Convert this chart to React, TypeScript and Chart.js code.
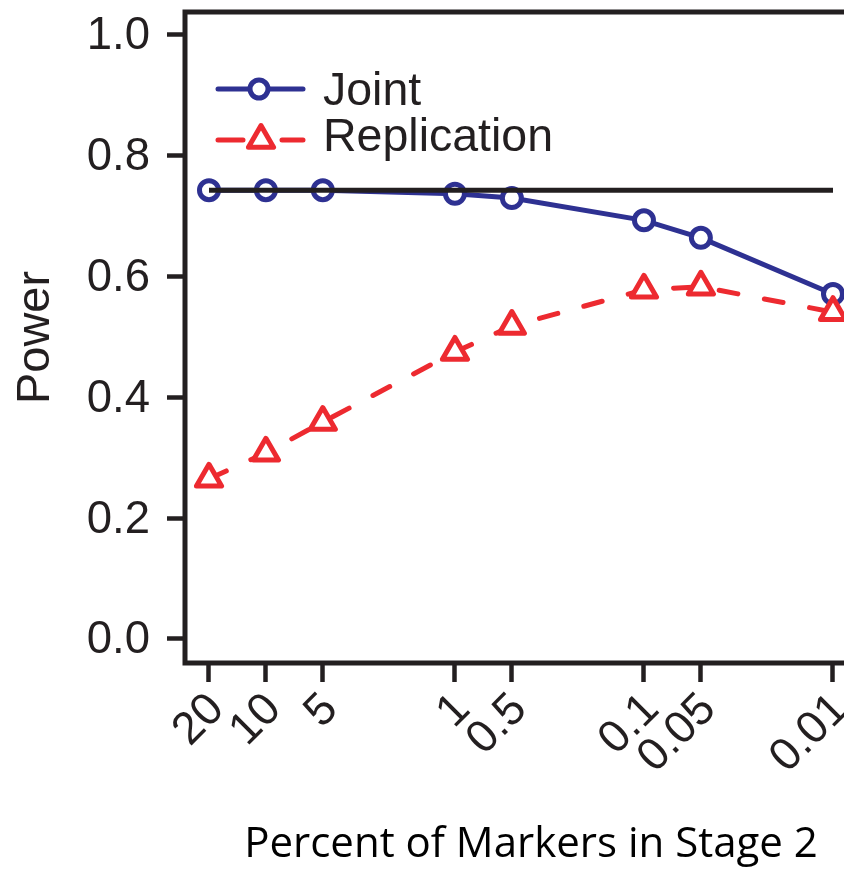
import { useEffect, useRef } from 'react';
import { Chart, registerables } from 'chart.js';

Chart.register(...registerables);

// Percent of markers carried into stage 2 (log axis, decreasing to the right)
const percentStage2 = [20, 10, 5, 1, 0.5, 0.1, 0.05, 0.01];
const percentLabels = ['20', '10', '5', '1', '0.5', '0.1', '0.05', '0.01'];

// Power of the two-stage analyses
const jointPower = [0.743, 0.743, 0.743, 0.737, 0.73, 0.693, 0.664, 0.571];
const replicationPower = [0.265, 0.308, 0.359, 0.475, 0.518, 0.578, 0.583, 0.541];

// Power of the one-stage design (reference line)
const oneStagePower = 0.743;

const powerTicks = [0, 0.2, 0.4, 0.6, 0.8, 1.0];
const seriesNames = ['Joint', 'Replication'];

const INK = '#231f20';
const BLUE = '#2e3192';
const RED = '#ed2a30';
const SANS = "'Liberation Sans', Arial, Helvetica, sans-serif";

function drawTriangle(ctx: CanvasRenderingContext2D, x: number, y: number, r: number) {
  ctx.beginPath();
  for (let k = 0; k < 3; k++) {
    const a = (k * 2 * Math.PI) / 3;
    const px = x + Math.sin(a) * r;
    const py = y - Math.cos(a) * r;
    if (k === 0) ctx.moveTo(px, py);
    else ctx.lineTo(px, py);
  }
  ctx.closePath();
}

// keep the plotting box exactly where the axes put it
function noScalePadding(scale: any) {
  scale.paddingLeft = 0;
  scale.paddingRight = 0;
  scale.paddingTop = 0;
  scale.paddingBottom = 0;
}

export default function App() {
  const canvasRef = useRef<HTMLCanvasElement>(null);

  useEffect(() => {
    const canvas = canvasRef.current;
    if (!canvas) return;

    const framePlugin = {
      id: 'frameAndLegend',
      beforeDatasetsDraw(chart: any) {
        chart.ctx.save();
        chart.ctx.lineJoin = 'round';
      },
      afterDatasetsDraw(chart: any) {
        chart.ctx.restore();
      },
      afterDraw(chart: any) {
        const { ctx, chartArea: a } = chart;
        ctx.save();
        // box around the plotting region
        ctx.strokeStyle = INK;
        ctx.lineWidth = 5;
        ctx.lineJoin = 'miter';
        ctx.setLineDash([]);
        ctx.strokeRect(a.left, a.top, a.right - a.left, a.bottom - a.top);

        // legend in the upper-left corner of the plot
        const x1 = a.left + 33;
        const x2 = a.left + 118;
        const xm = a.left + 76;
        const textX = a.left + 138;
        const rows = [
          { y: a.top + 77, base: a.top + 93, color: BLUE, dash: [] as number[], shape: 'circle' },
          { y: a.top + 128, base: a.top + 139, color: RED, dash: [25, 39], shape: 'triangle' },
        ];
        rows.forEach((row, i) => {
          ctx.strokeStyle = row.color;
          ctx.lineWidth = 5;
          ctx.lineCap = 'round';
          ctx.setLineDash(row.dash);
          ctx.beginPath();
          ctx.moveTo(x1, row.y);
          ctx.lineTo(x2, row.y);
          ctx.stroke();
          ctx.setLineDash([]);
          ctx.lineJoin = 'round';
          ctx.fillStyle = '#ffffff';
          if (row.shape === 'circle') {
            ctx.beginPath();
            ctx.arc(xm - 2, row.y, 9, 0, Math.PI * 2);
          } else {
            drawTriangle(ctx, xm, row.y, 14.5);
          }
          ctx.fill();
          ctx.stroke();
          ctx.fillStyle = INK;
          ctx.font = `46.5px ${SANS}`;
          ctx.textAlign = 'left';
          ctx.textBaseline = 'alphabetic';
          ctx.fillText(seriesNames[i], textX, row.base);
        });
        ctx.restore();
      },
    };

    const chart = new Chart(canvas, {
      type: 'line',
      data: {
        datasets: [
          {
            label: 'One stage',
            data: [
              { x: percentStage2[0], y: oneStagePower },
              { x: percentStage2[percentStage2.length - 1], y: oneStagePower },
            ],
            borderColor: INK,
            borderWidth: 5,
            pointRadius: 0,
            order: 0,
          },
          {
            label: seriesNames[1],
            data: percentStage2.map((x, i) => ({ x, y: replicationPower[i] })),
            borderColor: RED,
            borderWidth: 5,
            borderDash: [19, 27],
            borderCapStyle: 'round',
            pointStyle: 'triangle',
            pointRadius: 14.5,
            pointBorderWidth: 5,
            pointBorderColor: RED,
            pointBackgroundColor: '#ffffff',
            order: 1,
          },
          {
            label: seriesNames[0],
            data: percentStage2.map((x, i) => ({ x, y: jointPower[i] })),
            borderColor: BLUE,
            borderWidth: 5,
            pointStyle: 'circle',
            pointRadius: 9.5,
            pointBorderWidth: 5,
            pointBorderColor: BLUE,
            pointBackgroundColor: '#ffffff',
            order: 2,
          },
        ],
      },
      options: {
        responsive: false,
        maintainAspectRatio: false,
        devicePixelRatio: 1,
        animation: false,
        events: [],
        layout: { autoPadding: false, padding: { left: 0, top: 12, right: 0, bottom: 0 } },
        plugins: {
          legend: { display: false },
          tooltip: { enabled: false },
        },
        scales: {
          x: {
            type: 'logarithmic',
            reverse: true,
            min: 0.005851,
            max: 26.79,
            afterBuildTicks: (scale: any) => {
              scale.ticks = [...percentStage2].reverse().map((v) => ({ value: v }));
            },
            afterFit: (scale: any) => {
              scale.height = 207;
              noScalePadding(scale);
            },
            border: { display: false },
            grid: {
              drawOnChartArea: false,
              drawTicks: true,
              tickLength: 19,
              tickWidth: 4.5,
              tickColor: INK,
            },
            ticks: {
              autoSkip: false,
              maxRotation: 45,
              minRotation: 45,
              padding: 1,
              labelOffset: 8,
              color: INK,
              font: { family: SANS, size: 45.5 },
              callback: (value: any) => {
                const idx = percentStage2.indexOf(Number(value));
                return idx >= 0 ? percentLabels[idx] : '';
              },
            },
            title: {
              display: true,
              text: 'Percent of Markers in Stage 2',
              color: '#000000',
              font: { family: "'Open Sans', 'Noto Sans', sans-serif", size: 42 },
              padding: { top: 0, bottom: 0 },
            },
          },
          y: {
            type: 'linear',
            min: -0.04,
            max: 1.038,
            afterBuildTicks: (scale: any) => {
              scale.ticks = powerTicks.map((v) => ({ value: v }));
            },
            afterFit: (scale: any) => {
              scale.width = 185;
              noScalePadding(scale);
            },
            border: { display: false },
            grid: {
              drawOnChartArea: false,
              drawTicks: true,
              tickLength: 18,
              tickWidth: 4.5,
              tickColor: INK,
            },
            ticks: {
              padding: 17,
              labelOffset: 2,
              color: INK,
              font: { family: SANS, size: 45.5 },
              callback: (value: any) => Number(value).toFixed(1),
            },
            title: {
              display: true,
              text: 'Power',
              color: INK,
              font: { family: SANS, size: 47 },
              padding: { top: 8, bottom: 0 },
            },
          },
        },
      },
      plugins: [framePlugin],
    } as any);

    return () => chart.destroy();
  }, []);

  return (
    <div
      style={{
        position: 'fixed',
        left: 0,
        top: 0,
        width: 844,
        height: 870,
        overflow: 'hidden',
        background: '#ffffff',
      }}
    >
      <canvas ref={canvasRef} width={877} height={870} style={{ display: 'block' }} />
    </div>
  );
}
